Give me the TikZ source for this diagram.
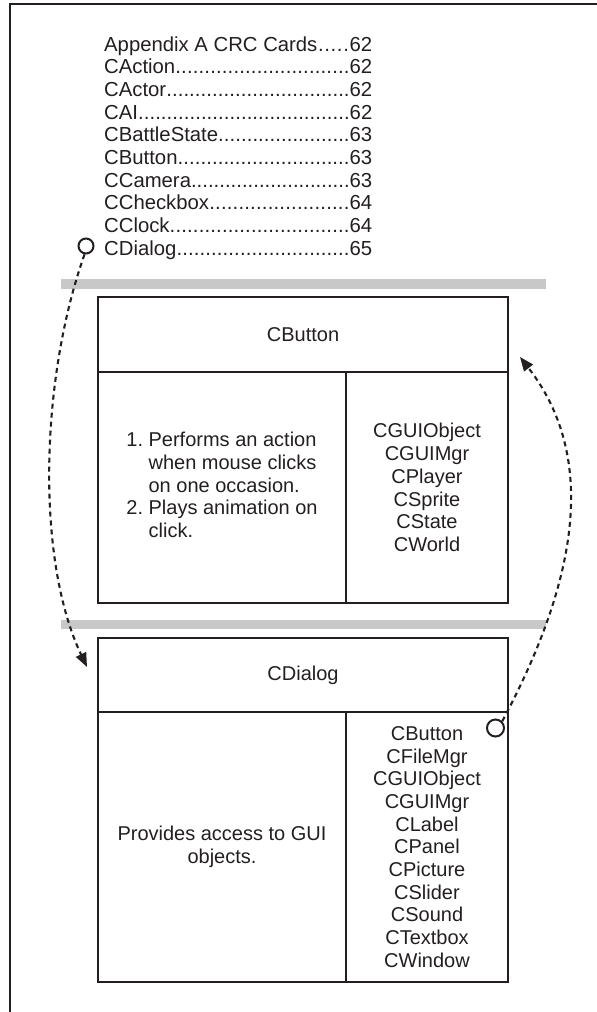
\documentclass[tikz,border=0pt]{standalone}
\usepackage{fontspec}
\setmainfont{Liberation Sans}
\usetikzlibrary{arrows.meta}
\definecolor{ink}{HTML}{231F20}
\definecolor{barfill}{HTML}{C8C8C8}
\newcommand\tocline[2]{\hbox to 268pt{#1\xleaders\hbox{.}\hfill #2}}
\begin{document}
\begin{tikzpicture}[x=1pt,y=-1pt,
  txt/.style={font=\fontsize{20.3}{22.7}\selectfont, text=ink, inner sep=0pt},
  cell/.style={draw=ink, line width=2pt, inner sep=0pt, align=center,
    font=\fontsize{20}{22.7}\selectfont, text=ink},
  link/.style={draw=ink, line width=2.1pt, dash pattern=on 5pt off 4pt},
  ring/.style={circle, draw=ink, line width=2pt, inner sep=0pt, minimum size=15pt},
  tip/.style={-{Triangle[length=14pt,width=11pt]}}]
\useasboundingbox (0,0) rectangle (597,1012);
% frame
\draw[ink, line width=2pt] (597,4) -- (10,4) -- (10,1012);
% table of contents
\node[txt, anchor=base west] (t1) at (104,51.0) {\tocline{Appendix A CRC Cards}{62}};
\node[txt, anchor=base west] (t2) at (104,73.7) {\tocline{CAction}{62}};
\node[txt, anchor=base west] (t3) at (104,96.4) {\tocline{CActor}{62}};
\node[txt, anchor=base west] (t4) at (104,119.1) {\tocline{CAI}{62}};
\node[txt, anchor=base west] (t5) at (104,141.8) {\tocline{CBattleState}{63}};
\node[txt, anchor=base west] (t6) at (104,164.5) {\tocline{CButton}{63}};
\node[txt, anchor=base west] (t7) at (104,187.2) {\tocline{CCamera}{63}};
\node[txt, anchor=base west] (t8) at (104,209.9) {\tocline{CCheckbox}{64}};
\node[txt, anchor=base west] (t9) at (104,232.6) {\tocline{CClock}{64}};
\node[txt, anchor=base west] (t10) at (104,255.3) {\tocline{CDialog}{65}};
% gray bars
\fill[barfill] (61,279) rectangle (546,289);
\fill[barfill] (61,620) rectangle (546,629);
% CButton card
\node[cell, minimum width=410pt, minimum height=75pt] (bhead) at (303,334.5) {CButton};
\node[cell, minimum width=248pt, minimum height=231pt] (bresp) at (222,487.5)
  {\begin{tabular}{@{}r@{\ }l@{}}1. & Performs an action\\ & when mouse clicks\\ & on one occasion.\\ 2. & Plays animation on\\ & click.\end{tabular}};
\node[cell, minimum width=162pt, minimum height=231pt] (bcollab) at (427,487.5)
  {CGUIObject\\CGUIMgr\\CPlayer\\CSprite\\CState\\CWorld};
% CDialog card
\node[cell, minimum width=410pt, minimum height=74pt] (dhead) at (303,675) {CDialog};
\node[cell, minimum width=248pt, minimum height=270pt] (dresp) at (222,847)
  {Provides access to GUI\\objects.};
\node[cell, minimum width=162pt, minimum height=270pt] (dcollab) at (427,847)
  {CButton\\CFileMgr\\CGUIObject\\CGUIMgr\\CLabel\\CPanel\\CPicture\\CSlider\\CSound\\CTextbox\\CWindow};
% rings and links
\node[ring] (r1) at (86,246) {};
\node[ring, minimum size=17pt] (r2) at (495.5,728) {};
\coordinate (e1) at (87,667);
\coordinate (e2) at (520,357);
\draw[link, tip] (r1.-100) .. controls (40,380) and (36,560) .. (e1);
\draw[link, tip] (r2.north east) .. controls (575,585) and (600,460) .. (e2);
\end{tikzpicture}
\end{document}
